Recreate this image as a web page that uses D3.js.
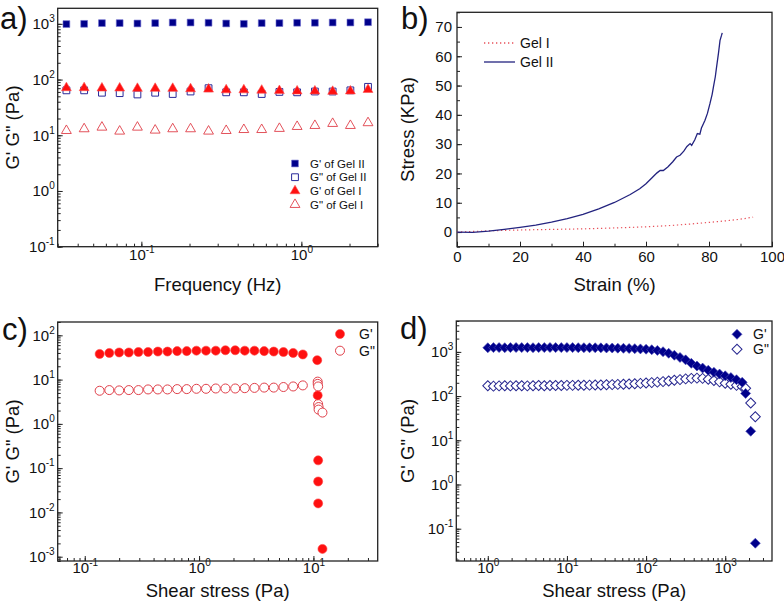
<!DOCTYPE html>
<html>
<head>
<meta charset="utf-8">
<script src="https://cdn.jsdelivr.net/npm/d3@7"></script>
<style>
  body { margin: 0; background: #fff; }
  svg { display: block; font-family: "Liberation Sans", Arial, sans-serif; }
</style>
</head>
<body>
<svg id="fig" width="784" height="612"></svg>
<script>
// ---- panel a: frequency sweep ----
const freq = [0.034, 0.0439, 0.0567, 0.0732, 0.0945, 0.122, 0.157, 0.203, 0.263, 0.339,
  0.437, 0.565, 0.729, 0.941, 1.215, 1.569, 2.025, 2.61];
const gpGel2 = [990, 1000, 1030, 1030, 1015, 1030, 1055, 1055, 1045, 1015, 1000, 1030, 1030, 1045, 1045, 1055, 1055, 1070];
const gppGel2 = [64, 64, 58, 57, 54, 58, 55, 61, 70, 59, 59, 55, 60, 59, 61, 61, 64, 74];
const gpGel1 = [71, 71, 70, 70, 69, 69, 69, 68, 67, 65, 65, 64, 63, 62, 62, 61, 62, 66];
const gppGel1 = [12.1, 13.0, 13.9, 11.8, 13.9, 12.3, 13.0, 13.0, 11.8, 12.1, 12.6, 12.6, 13.2, 14.3, 14.9, 16.2, 14.9, 16.7];
const legendA = ["G' of Gel II", 'G" of Gel II', "G' of Gel I", 'G" of Gel I'];

// ---- panel b: stress-strain ----
const strainGel2 = [0, 5, 10, 15, 20, 25, 30, 35, 40, 45, 50, 55, 58, 60, 62, 63.5, 64.5, 65.5, 67, 68.5,
  69.7, 70.8, 72, 73, 74, 74.5, 75.5, 76.3, 77.1, 77.6, 78.7, 79.5, 80.3, 81, 81.4, 82, 82.4, 83, 83.5, 84, 84.2];
const stressGel2 = [0, -0.1, 0.3, 0.9, 1.6, 2.4, 3.4, 4.6, 6.0, 7.9, 10.1, 12.8, 14.8, 16.5, 18.6, 20.2, 21.0, 21.0, 22.3, 24.0,
  25.6, 26.2, 27.6, 29.2, 30.2, 29.6, 31.5, 33.6, 33.4, 35.5, 38.1, 40.5, 43.8, 47, 49.5, 53, 56.3, 61, 65.4, 67.2, 68];
const strainGel1 = [0, 10, 20, 30, 40, 50, 60, 70, 80, 85, 90, 94];
const stressGel1 = [0, 0.4, 0.7, 0.9, 1.1, 1.4, 1.8, 2.4, 3.3, 3.8, 4.4, 5.1];
const legendB = ['Gel I', 'Gel II'];

// ---- panel c: stress sweep, Gel I ----
const shearCgp = [0.135, 0.164, 0.2, 0.243, 0.295, 0.358, 0.436, 0.529, 0.643, 0.78, 0.948, 1.15, 1.4, 1.7,
  2.07, 2.51, 3.05, 3.71, 4.5, 5.47, 6.65, 8.08, 10.8, 10.9, 11.0, 11.0, 11.0, 12.0];
const gpC = [38, 40, 41, 41, 42, 42, 43, 43, 44, 44, 45, 45, 45, 46, 46, 45, 45, 44, 43, 42, 40, 37,
  27.5, 4.4, 0.15, 0.05, 0.016, 0.0015];
const shearCgpp = [0.135, 0.164, 0.2, 0.243, 0.295, 0.358, 0.436, 0.529, 0.643, 0.78, 0.948, 1.15, 1.4, 1.7,
  2.07, 2.51, 3.05, 3.71, 4.5, 5.47, 6.65, 8.08, 10.9, 10.9, 11.0, 11.0, 11.1, 11.1, 12.0];
const gppC = [5.6, 5.8, 5.7, 5.8, 5.8, 6.0, 6.0, 6.0, 6.1, 6.1, 6.2, 6.2, 6.3, 6.3, 6.3, 6.4, 6.5, 6.6, 6.6, 6.8, 7.0, 7.4,
  9.0, 8.0, 7.0, 2.8, 2.4, 2.1, 1.8];

// ---- panel d: stress sweep, Gel II ----
const shearD = [1, 1.179, 1.389, 1.638, 1.931, 2.276, 2.683, 3.162, 3.728, 4.394, 5.179, 6.105, 7.197, 8.483,
  10, 11.79, 13.89, 16.38, 19.31, 22.76, 26.83, 31.62, 37.28, 43.94, 51.79, 61.05, 71.97, 84.83,
  100, 117.9, 138.9, 163.8, 193.1, 227.6, 268.3, 316.2, 372.8, 439.4, 517.9, 610.5, 719.7, 848.3,
  1000, 1179, 1389, 1638, 1810, 2100, 2400];
const gpD = [1240, 1250, 1250, 1245, 1250, 1255, 1250, 1250, 1245, 1250, 1250, 1255, 1250, 1250,
  1250, 1250, 1245, 1245, 1240, 1240, 1235, 1230, 1225, 1215, 1205, 1195, 1185, 1170,
  1150, 1120, 1080, 1010, 930, 840, 750, 660, 550, 480, 430, 385, 345, 315,
  288, 262, 235, 205, 115, 16, 0.047];
const gppD = [172, 168, 170, 172, 170, 171, 172, 170, 172, 173, 172, 173, 174, 173,
  175, 175, 176, 176, 177, 178, 179, 180, 182, 184, 186, 188, 191, 194,
  198, 202, 207, 213, 220, 228, 236, 245, 252, 255, 252, 240, 225, 210,
  195, 185, 175, 165, 150, 70, 34];

const legendCD = ["G'", 'G"'];

const NAVY = '#00008b';
const RED = '#ff1010';
const svg = d3.select('#fig');

function minorLog(lo, hi) {
  const out = [];
  for (let e = Math.floor(Math.log10(lo)); e <= Math.ceil(Math.log10(hi)); e++) {
    for (let m = 1; m < 10; m++) {
      const v = m * Math.pow(10, e);
      if (v >= lo * 0.999 && v <= hi * 1.001) out.push(v);
    }
  }
  return out;
}

function supLabels(sel) {
  sel.selectAll('.tick text').each(function (d) {
    const t = d3.select(this).text('');
    t.append('tspan').text('10');
    t.append('tspan').attr('dy', -7).attr('font-size', '10px').text(Math.round(Math.log10(d)));
  });
}

function panel(p) {
  const g = svg.append('g');
  const x = (p.xLog ? d3.scaleLog() : d3.scaleLinear()).domain(p.xDomain).range([p.left, p.right]);
  const y = (p.yLog ? d3.scaleLog() : d3.scaleLinear()).domain(p.yDomain).range([p.bottom, p.top]);

  const bx = g.append('g').attr('transform', `translate(0,${p.bottom})`);
  bx.append('g').call(d3.axisBottom(x).tickValues(p.xMinor).tickSizeInner(-3).tickSizeOuter(0).tickFormat(''));
  const bxMaj = bx.append('g').call(d3.axisBottom(x).tickValues(p.xTicks).tickSizeInner(-5)
    .tickSizeOuter(0).tickPadding(p.xPad));
  const ly = g.append('g').attr('transform', `translate(${p.left},0)`);
  ly.append('g').call(d3.axisLeft(y).tickValues(p.yMinor).tickSizeInner(-3).tickSizeOuter(0).tickFormat(''));
  const lyMaj = ly.append('g').call(d3.axisLeft(y).tickValues(p.yTicks).tickSizeInner(-5)
    .tickSizeOuter(0).tickPadding(p.yPad));
  g.selectAll('.domain').remove();
  g.selectAll('.tick line').attr('stroke', '#222');
  g.selectAll('.tick text').attr('font-size', '15px').attr('fill', '#111')
    .attr('font-family', '"Liberation Sans", Arial, sans-serif');
  if (p.xLog) supLabels(bxMaj);
  if (p.yLog) supLabels(lyMaj);

  g.append('rect')
    .attr('x', p.left).attr('y', p.top)
    .attr('width', p.right - p.left).attr('height', p.bottom - p.top)
    .attr('fill', 'none').attr('stroke', '#222').attr('stroke-width', 1.3);

  g.append('text').attr('x', (p.left + p.right) / 2).attr('y', p.xTitleY)
    .attr('text-anchor', 'middle').attr('font-size', '18.5px').attr('fill', '#111').text(p.xTitle);
  g.append('text').attr('transform', `translate(${p.yTitleX},${(p.top + p.bottom) / 2}) rotate(-90)`)
    .attr('text-anchor', 'middle').attr('font-size', '18.5px').attr('fill', '#111').text(p.yTitle);
  g.append('text').attr('x', p.tagX).attr('y', p.tagY).attr('font-size', '31px').attr('fill', '#111').text(p.tag);

  const plot = g.append('g');
  return { g: plot, x, y };
}

const sym = (type, size) => d3.symbol().type(type).size(size)();

function scatter(pn, xs, ys, opt) {
  pn.g.append('g').selectAll('path')
    .data(xs.map((v, i) => [v, ys[i]]))
    .join('path')
    .attr('d', sym(opt.type, opt.size))
    .attr('transform', d => `translate(${pn.x(d[0])},${pn.y(d[1])})${opt.rotate ? ' rotate(45)' : ''}`)
    .attr('fill', opt.fill)
    .attr('stroke', opt.stroke)
    .attr('stroke-width', opt.sw || 1);
}

function legendItem(g, cx, cy, opt, label, fs) {
  g.append('path').attr('d', sym(opt.type, opt.size))
    .attr('transform', `translate(${cx},${cy})${opt.rotate ? ' rotate(45)' : ''}`)
    .attr('fill', opt.fill).attr('stroke', opt.stroke).attr('stroke-width', opt.sw || 1);
  g.append('text').attr('x', cx + opt.gap).attr('y', cy + fs * 0.36)
    .attr('font-size', fs + 'px').attr('fill', '#111').text(label);
}

// ---------- a ----------
const pa = panel({
  left: 57.7, right: 377.7, top: 8.3, bottom: 246.7,
  xLog: true, xDomain: [0.03, 3], xTicks: [0.1, 1], xMinor: minorLog(0.03, 3), xPad: 2.7,
  yLog: true, yDomain: [0.1, 1900], yTicks: [0.1, 1, 10, 100, 1000], yMinor: minorLog(0.1, 1900), yPad: 3,
  xTitle: 'Frequency (Hz)', xTitleY: 291, yTitle: 'G\' G" (Pa)', yTitleX: 19,
  tag: 'a)', tagX: 0, tagY: 29
});
const aStyles = [
  { type: d3.symbolSquare, size: 46, fill: NAVY, stroke: '#6f6fd0', sw: 0.6, gap: 15 },
  { type: d3.symbolSquare, size: 46, fill: 'none', stroke: '#2a2a9a', sw: 1, gap: 15 },
  { type: d3.symbolTriangle, size: 42, fill: RED, stroke: '#ff5050', sw: 0.6, gap: 15 },
  { type: d3.symbolTriangle, size: 42, fill: 'none', stroke: '#e0404a', sw: 0.9, gap: 15 }
];
scatter(pa, freq, gpGel2, aStyles[0]);
scatter(pa, freq, gppGel2, aStyles[1]);
scatter(pa, freq, gpGel1, aStyles[2]);
scatter(pa, freq, gppGel1, aStyles[3]);
legendA.forEach((t, i) => legendItem(pa.g, 295, 163.5 + i * 13.7, aStyles[i], t, 11.5));

// ---------- b ----------
const pb = panel({
  left: 457, right: 772, top: 12.3, bottom: 246.7,
  xLog: false, xDomain: [0, 100], xTicks: d3.range(0, 101, 20), xMinor: d3.range(0, 101, 10), xPad: 4.5,
  yLog: false, yDomain: [-5, 75], yTicks: d3.range(0, 71, 10), yMinor: d3.range(-5, 76, 5), yPad: 5,
  xTitle: 'Strain (%)', xTitleY: 291, yTitle: 'Stress (KPa)', yTitleX: 414,
  tag: 'b)', tagX: 401, tagY: 29
});
const lineGen = d3.line().x(d => pb.x(d[0])).y(d => pb.y(d[1]));
pb.g.append('path').datum(strainGel1.map((v, i) => [v, stressGel1[i]]))
  .attr('d', lineGen.curve(d3.curveMonotoneX)).attr('fill', 'none')
  .attr('stroke', '#e8505a').attr('stroke-width', 1.2).attr('stroke-dasharray', '1.3,2.7');
pb.g.append('path').datum(strainGel2.map((v, i) => [v, stressGel2[i]]))
  .attr('d', d3.line().x(d => pb.x(d[0])).y(d => pb.y(d[1]))).attr('fill', 'none')
  .attr('stroke', '#23237f').attr('stroke-width', 1.3);
const legB = pb.g.append('g');
legendB.forEach((t, i) => {
  const yy = 43 + i * 19;
  legB.append('line').attr('x1', 484).attr('x2', 515).attr('y1', yy).attr('y2', yy)
    .attr('stroke', i ? '#23237f' : '#e8505a').attr('stroke-width', 1.3)
    .attr('stroke-dasharray', i ? null : '1.3,2.7');
  legB.append('text').attr('x', 520).attr('y', yy + 5).attr('font-size', '14px').attr('fill', '#111').text(t);
});

// ---------- c ----------
const pc = panel({
  left: 57.7, right: 377.7, top: 322, bottom: 561,
  xLog: true, xDomain: [0.058, 36.5], xTicks: [0.1, 1, 10], xMinor: minorLog(0.058, 36.5), xPad: 1,
  yLog: true, yDomain: [0.0008, 200], yTicks: [0.001, 0.01, 0.1, 1, 10, 100], yMinor: minorLog(0.0008, 200), yPad: 3,
  xTitle: 'Shear stress (Pa)', xTitleY: 597, yTitle: 'G\' G" (Pa)', yTitleX: 19,
  tag: 'c)', tagX: 2, tagY: 340
});
const cStyles = [
  { type: d3.symbolCircle, size: 64, fill: RED, stroke: '#ff4040', sw: 0.6, gap: 19 },
  { type: d3.symbolCircle, size: 64, fill: '#fff', stroke: '#e0404a', sw: 1, gap: 19 }
];
scatter(pc, shearCgpp, gppC, cStyles[1]);
scatter(pc, shearCgp, gpC, cStyles[0]);
legendCD.forEach((t, i) => legendItem(pc.g, 340, 334 + i * 16.7, cStyles[i], t, 14));

// ---------- d ----------
const pd = panel({
  left: 456.3, right: 772, top: 321, bottom: 561,
  xLog: true, xDomain: [0.4, 3900], xTicks: [1, 10, 100, 1000], xMinor: minorLog(0.4, 3900), xPad: 1,
  yLog: true, yDomain: [0.0186, 5000], yTicks: [0.1, 1, 10, 100, 1000], yMinor: minorLog(0.0186, 5000), yPad: 3,
  xTitle: 'Shear stress (Pa)', xTitleY: 597, yTitle: 'G\' G" (Pa)', yTitleX: 414,
  tag: 'd)', tagX: 400, tagY: 339
});
const dStyles = [
  { type: d3.symbolSquare, size: 50, rotate: true, fill: NAVY, stroke: '#4a4ab8', sw: 0.6, gap: 16 },
  { type: d3.symbolSquare, size: 50, rotate: true, fill: '#fff', stroke: '#25258f', sw: 1, gap: 16 }
];
scatter(pd, shearD, gppD, dStyles[1]);
scatter(pd, shearD, gpD, dStyles[0]);
legendCD.forEach((t, i) => legendItem(pd.g, 737, 334.3 + i * 15, dStyles[i], t, 14));
</script>
</body>
</html>
